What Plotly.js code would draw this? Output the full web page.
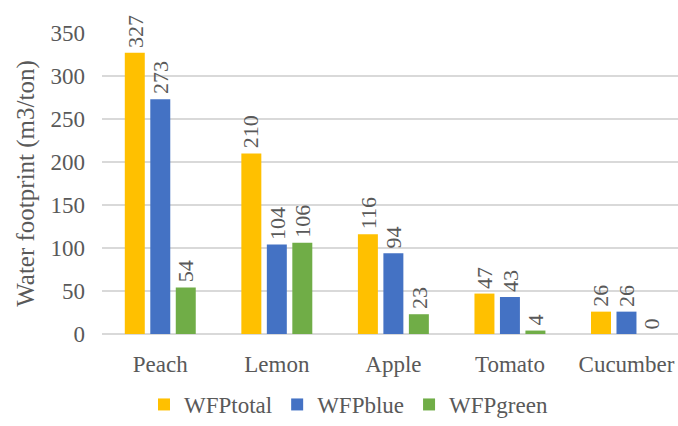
<!DOCTYPE html>
<html>
<head>
<meta charset="utf-8">
<script src="https://cdn.plot.ly/plotly-3.0.1.min.js"></script>
<style>
  html, body { margin: 0; padding: 0; background: #ffffff; }
  #chart { width: 678px; height: 426px; }
</style>
</head>
<body>
<div id="chart"></div>
<script>
// Water footprint per crop (m3/ton)
const crops = ["Peach", "Lemon", "Apple", "Tomato", "Cucumber"];
const wfpTotal = [327, 210, 116, 47, 26];
const wfpBlue = [273, 104, 94, 43, 26];
const wfpGreen = [54, 106, 23, 4, 0];
const seriesNames = ["WFPtotal", "WFPblue", "WFPgreen"];
const seriesColors = ["#FFC000", "#4472C4", "#70AD47"];
const yTicks = [0, 50, 100, 150, 200, 250, 300, 350];

const seriesValues = [wfpTotal, wfpBlue, wfpGreen];
const FONT = "Liberation Serif";
const TEXT = "#595959";
const bargap = 0.344;
const bargroupgap = 0.216;

const traces = seriesValues.map((vals, k) => ({
  type: "bar",
  name: seriesNames[k],
  x: crops,
  y: vals,
  marker: { color: seriesColors[k] },
  hoverinfo: "skip"
}));

// value labels, rotated, sitting just above each bar
const slot = (1 - bargap) / seriesValues.length;
const annotations = [];
seriesValues.forEach((vals, k) => {
  vals.forEach((v, i) => {
    annotations.push({
      x: i + (k - (seriesValues.length - 1) / 2) * slot,
      y: v,
      xref: "x",
      yref: "y",
      text: String(v),
      showarrow: false,
      textangle: -90,
      xanchor: "center",
      yanchor: "bottom",
      yshift: 4,
      borderpad: 0,
      font: { family: "Times New Roman", size: 22, color: TEXT }
    });
  });
});

const layout = {
  width: 678,
  height: 426,
  margin: { l: 102, r: 0, t: 33, b: 92 },
  paper_bgcolor: "#ffffff",
  plot_bgcolor: "#ffffff",
  font: { family: FONT, size: 23, color: TEXT },
  barmode: "group",
  bargap: bargap,
  bargroupgap: bargroupgap,
  xaxis: {
    type: "category",
    range: [-0.5, 4.442],
    showgrid: false,
    zeroline: false,
    showline: false,
    ticks: "",
    ticklabelstandoff: 14,
    tickfont: { family: FONT, size: 23, color: TEXT },
    automargin: false,
    fixedrange: true
  },
  yaxis: {
    range: [0, 350],
    tickmode: "array",
    tickvals: yTicks,
    ticktext: yTicks.map(String),
    showgrid: true,
    gridcolor: "#d9d9d9",
    gridwidth: 1.3,
    zeroline: true,
    zerolinecolor: "#d9d9d9",
    zerolinewidth: 1.3,
    showline: false,
    ticks: "",
    ticklabelstandoff: 16,
    tickfont: { family: FONT, size: 23, color: TEXT },
    title: {
      text: "Water footprint (m3/ton)",
      font: { family: FONT, size: 25, color: TEXT },
      standoff: 8
    },
    automargin: false,
    fixedrange: true
  },
  showlegend: true,
  legend: {
    orientation: "h",
    xref: "container",
    yref: "container",
    x: 0.514,
    xanchor: "center",
    y: 0,
    yanchor: "bottom",
    font: { family: "serif", size: 23, color: TEXT },
    itemwidth: 30,
    traceorder: "normal"
  },
  annotations: annotations
};

Plotly.newPlot("chart", traces, layout, { displayModeBar: false, staticPlot: true });
</script>
</body>
</html>
